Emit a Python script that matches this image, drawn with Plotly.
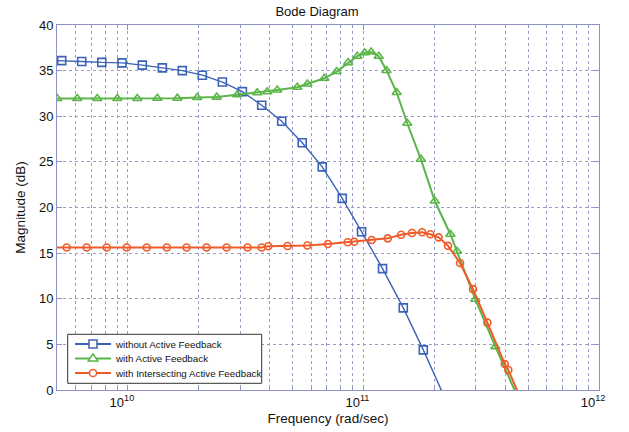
import plotly.graph_objects as go

# ---------------- data ----------------
# without Active Feedback (markers)
blue_freq = [5.236e9, 6.368e9, 7.745e9, 9.441e9, 1.151e10, 1.400e10, 1.702e10, 2.070e10,
             2.518e10, 3.062e10, 3.698e10, 4.498e10, 5.495e10, 6.683e10, 8.128e10,
             9.817e10, 1.205e11, 1.476e11, 1.795e11]
blue_mag = [36.1, 36.0, 35.9, 35.85, 35.6, 35.3, 35.0, 34.5, 33.75, 32.7, 31.2, 29.45,
            27.1, 24.45, 21.0, 17.35, 13.3, 9.0, 4.4]
# points just outside the axes (line only)
blue_lead = (4.305e9, 36.15)
blue_tail = (2.183e11, -0.5)

# with Active Feedback
green_freq = [5.01e9, 6.095e9, 7.413e9, 9.016e9, 1.0965e10, 1.3335e10, 1.6218e10, 1.9679e10,
              2.3823e10, 2.9107e10, 3.540e10, 3.9084e10, 4.3053e10, 5.236e10, 5.781e10,
              6.8234e10, 7.6913e10, 8.6099e10, 9.4189e10, 1.0116e11, 1.0789e11, 1.1614e11,
              1.2531e11, 1.3836e11, 1.5346e11, 1.7539e11, 2.0091e11, 2.3388e11, 2.4946e11,
              2.9854e11, 3.6308e11]
green_mag = [31.95, 31.95, 31.95, 31.95, 31.95, 31.97, 31.98, 32.05, 32.1, 32.36, 32.58,
             32.69, 32.88, 33.17, 33.53, 34.16, 34.9, 35.88, 36.58, 36.96, 37.04, 36.58,
             35.02, 32.6, 29.23, 25.28, 20.71, 17.07, 15.2, 9.94, 4.75]
green_tail = (4.4668e11, -0.5)

# with Intersecting Active Feedback
orange_freq = [5.495e9, 6.683e9, 8.128e9, 9.886e9, 1.2023e10, 1.4622e10, 1.7742e10,
               2.1577e10, 2.6242e10, 3.2211e10, 3.698e10, 3.9446e10, 4.7643e10, 5.781e10,
               7.0632e10, 8.5704e10, 9.1411e10, 1.0839e11, 1.2677e11, 1.4454e11, 1.6069e11,
               1.7742e11, 1.9231e11, 2.0845e11, 2.2856e11, 2.5704e11, 2.9174e11, 3.3574e11,
               3.9811e11, 4.121e11]
orange_mag = [15.62, 15.62, 15.62, 15.62, 15.62, 15.62, 15.62, 15.62, 15.62, 15.62, 15.62,
              15.75, 15.78, 15.84, 16.0, 16.19, 16.25, 16.44, 16.62, 17.02, 17.2, 17.28,
              17.07, 16.73, 15.8, 13.92, 11.05, 7.38, 2.85, 2.19]
orange_lead = (4.571e9, 15.62)
orange_tail = (4.571e11, -0.5)

series_names = ["without Active Feedback", "with Active Feedback",
                "with Intersecting Active Feedback"]

x_tick_vals = [1e10, 1e11, 1e12]
x_tick_text = ["10<sup>10</sup>", "10<sup>11</sup>", "10<sup>12</sup>"]
y_tick_vals = [0, 5, 10, 15, 20, 25, 30, 35, 40]
x_minor_vals = [m * 10 ** e for e in (9, 10, 11) for m in range(2, 10)]

# ---------------- styles ----------------
BLUE = "#3b63b8"
GREEN = "#5bb548"
ORANGE = "#f05a28"
AXC = "#8e92c4"
GRIDC = "#9a9cc8"
FONT = "Arial, Liberation Sans, sans-serif"

W, H = 629, 432
ML, MR, MT, MB = 57, 30, 25, 42
PW, PH = W - ML - MR, H - MT - MB

fig = go.Figure()


def add_series(freq, mag, lead, tail, color, lw, symbol, msize, name):
    xs = ([lead[0]] if lead else []) + freq + [tail[0]]
    ys = ([lead[1]] if lead else []) + mag + [tail[1]]
    fig.add_trace(go.Scatter(x=xs, y=ys, mode="lines", line=dict(color=color, width=lw),
                             showlegend=False, hoverinfo="skip"))
    fig.add_trace(go.Scatter(x=freq, y=mag, mode="markers", name=name, showlegend=False,
                             marker=dict(symbol=symbol, size=msize, color=color,
                                         line=dict(color=color, width=1.6))))


add_series(blue_freq, blue_mag, blue_lead, blue_tail, BLUE, 1.4, "square-open", 8, series_names[0])
add_series(green_freq, green_mag, None, green_tail, GREEN, 2.0, "triangle-up-open", 8, series_names[1])
add_series(orange_freq, orange_mag, orange_lead, orange_tail, ORANGE, 2.0, "circle-open", 7, series_names[2])

# ---------------- custom legend (shapes + annotations) ----------------
def px(x):
    return (x - ML) / PW


def py(y):
    return (H - MB - y) / PH


shapes = []
annotations = []
shapes.append(dict(type="rect", xref="paper", yref="paper", layer="above",
                   x0=px(67.7), x1=px(261.7), y0=py(383.3), y1=py(334.3),
                   fillcolor="white", line=dict(color="#333333", width=1)))
rows = [344.0, 358.5, 373.0]
colors = [BLUE, GREEN, ORANGE]
for i, (ry, c) in enumerate(zip(rows, colors)):
    shapes.append(dict(type="line", xref="paper", yref="paper", layer="above",
                       x0=px(75), x1=px(111), y0=py(ry), y1=py(ry),
                       line=dict(color=c, width=2)))
    cx = 93
    if i == 0:
        shapes.append(dict(type="rect", xref="paper", yref="paper", layer="above",
                           x0=px(cx - 4), x1=px(cx + 4), y0=py(ry + 4), y1=py(ry - 4),
                           fillcolor="white", line=dict(color=c, width=1.5)))
    elif i == 1:
        path = "M{},{} L{},{} L{},{} Z".format(px(cx - 4.8), py(ry + 2.6), px(cx + 4.8), py(ry + 2.6),
                                              px(cx), py(ry - 4.6))
        shapes.append(dict(type="path", xref="paper", yref="paper", layer="above", path=path,
                           fillcolor="white", line=dict(color=c, width=1.5)))
    else:
        shapes.append(dict(type="circle", xref="paper", yref="paper", layer="above",
                           x0=px(cx - 3.6), x1=px(cx + 3.6), y0=py(ry + 3.6), y1=py(ry - 3.6),
                           fillcolor="white", line=dict(color=c, width=1.5)))
    annotations.append(dict(xref="paper", yref="paper", x=px(113), y=py(ry), xanchor="left",
                            yanchor="middle", showarrow=False, text=series_names[i],
                            font=dict(family=FONT, size=9.8, color="#111111")))

fig.update_layout(
    width=W, height=H,
    margin=dict(l=ML, r=MR, t=MT, b=MB, autoexpand=False),
    paper_bgcolor="white", plot_bgcolor="white",
    font=dict(family=FONT, size=13, color="#111111"),
    title=dict(text="Bode Diagram", x=317 / W, xanchor="center", y=1 - 7 / H,
               yanchor="top", font=dict(family=FONT, size=13, color="#111111")),
    showlegend=False,
    shapes=shapes,
    annotations=annotations,
)

fig.update_xaxes(
    type="log", range=[9.69897, 12], automargin=False,
    tickvals=x_tick_vals, ticktext=x_tick_text, ticklabelshift=-6,
    ticks="inside", ticklen=5, tickcolor=AXC, tickwidth=1,
    showline=True, linecolor=AXC, linewidth=1, mirror="ticks",
    showgrid=True, gridcolor=GRIDC, gridwidth=1, griddash="3px,3px",
    minor=dict(tickvals=x_minor_vals, ticks="inside", ticklen=3, tickcolor=AXC,
               showgrid=True, gridcolor=GRIDC, gridwidth=1, griddash="3px,3px"),
    zeroline=False,
    tickfont=dict(family=FONT, size=13, color="#111111"),
    title=dict(text="Frequency (rad/sec)", standoff=4,
               font=dict(family=FONT, size=13.5, color="#111111")),
)
fig.update_yaxes(
    range=[0, 40], tickvals=y_tick_vals, automargin=False,
    ticks="inside", ticklen=5, tickcolor=AXC, tickwidth=1,
    showline=True, linecolor=AXC, linewidth=1, mirror="ticks",
    showgrid=True, gridcolor=GRIDC, gridwidth=1, griddash="3px,3px",
    zeroline=False,
    tickfont=dict(family=FONT, size=13, color="#111111"),
    title=dict(text="Magnitude (dB)", standoff=10,
               font=dict(family=FONT, size=13.5, color="#111111")),
)

fig.write_html("out.html", config={"displayModeBar": False},
               post_script="document.body.style.margin='0';")
